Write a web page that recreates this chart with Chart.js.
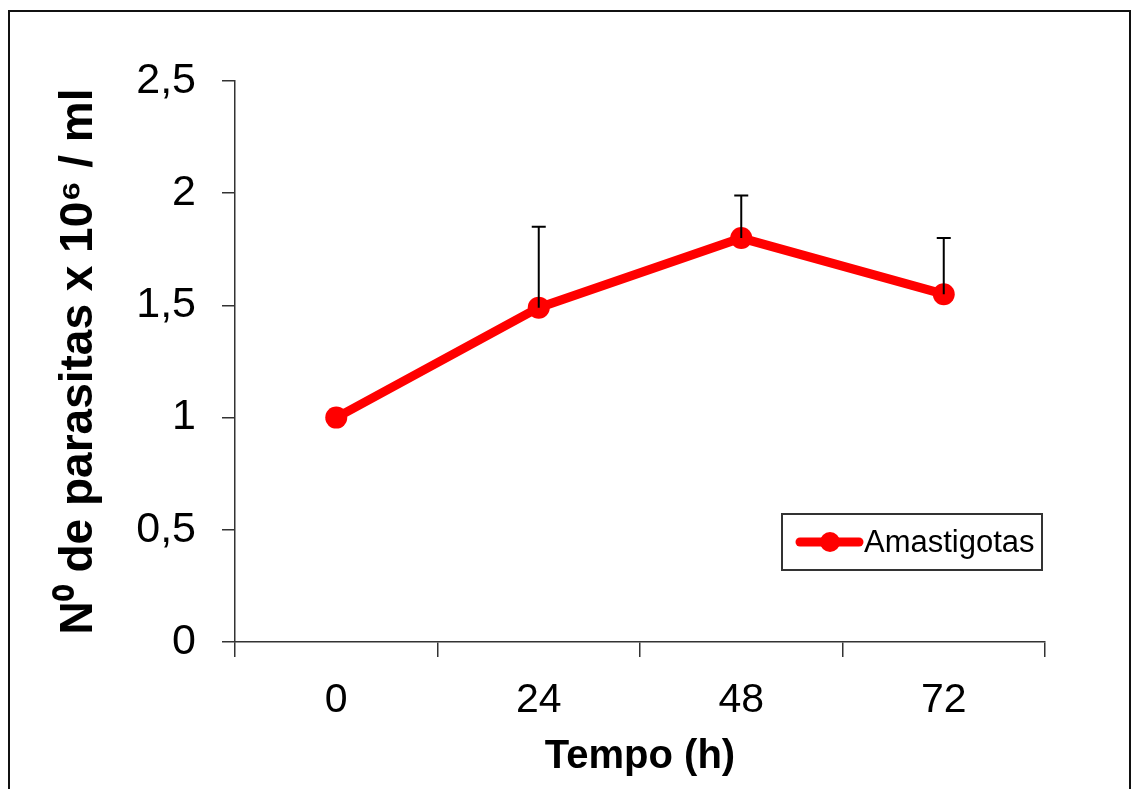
<!DOCTYPE html>
<html>
<head>
<meta charset="utf-8">
<script src="https://cdn.jsdelivr.net/npm/chart.js@4/dist/chart.umd.min.js"></script>
<style>
	body { margin: 0; background: #fff; }
	#grafico { display: block; }
</style>
</head>
<body>
<canvas id="grafico" width="1132" height="789"></canvas>
<script>
// data
var tempo = ["0", "24", "48", "72"];
var amastigotas = [1.0, 1.49, 1.80, 1.55];
var erro = [0, 0.36, 0.19, 0.25];
var yTicks = [0, 0.5, 1, 1.5, 2, 2.5];

var fonte = "'Liberation Sans', Arial, sans-serif";

// upper error bars (black, with cap)
var errorBars = {
	id: "errorBars",
	afterDatasetsDraw: function(chart) {
		var ctx = chart.ctx;
		var x = chart.scales.x, y = chart.scales.y;
		ctx.save();
		ctx.strokeStyle = "#000";
		ctx.lineWidth = 2;
		for (var i = 0; i < amastigotas.length; i++) {
			if (!erro[i]) continue;
			var px = x.getPixelForValue(i);
			var y0 = y.getPixelForValue(amastigotas[i]);
			var y1 = y.getPixelForValue(amastigotas[i] + erro[i]);
			ctx.beginPath();
			ctx.moveTo(px, y0);
			ctx.lineTo(px, y1);
			ctx.moveTo(px - 7, y1);
			ctx.lineTo(px + 7, y1);
			ctx.stroke();
		}
		ctx.restore();
	}
};

// frame around the figure + legend box inside the plot
var moldura = {
	id: "moldura",
	beforeDraw: function(chart) {
		var ctx = chart.ctx;
		ctx.save();
		ctx.fillStyle = "#fff";
		ctx.fillRect(0, 0, chart.width, chart.height);
		ctx.strokeStyle = "#111";
		ctx.lineWidth = 2;
		ctx.strokeRect(9, 11, 1121, 820);
		ctx.restore();
	},
	afterDraw: function(chart) {
		var ctx = chart.ctx;
		var ds = chart.data.datasets[0];
		var a = chart.chartArea;
		var bx = a.right - 263, by = a.top + 433, bw = 260, bh = 56;
		ctx.save();
		ctx.strokeStyle = "#333";
		ctx.lineWidth = 2;
		ctx.strokeRect(bx, by, bw, bh);
		var cy = by + bh / 2;
		ctx.strokeStyle = ds.borderColor;
		ctx.lineWidth = 9;
		ctx.lineCap = "round";
		ctx.beginPath();
		ctx.moveTo(bx + 18, cy);
		ctx.lineTo(bx + 77, cy);
		ctx.stroke();
		ctx.fillStyle = ds.backgroundColor;
		ctx.beginPath();
		ctx.arc(bx + 48, cy, 10, 0, Math.PI * 2);
		ctx.fill();
		ctx.fillStyle = "#000";
		ctx.font = "31px " + fonte;
		ctx.textBaseline = "middle";
		ctx.fillText(ds.label, bx + 82, cy + 1);
		ctx.restore();
	}
};

var ctx = document.getElementById("grafico");

var chart = new Chart(ctx, {
	type: "line",
	data: {
		labels: tempo,
		datasets: [
			{
				label: "Amastigotas",
				data: amastigotas,
				borderColor: "#ff0000",
				backgroundColor: "#ff0000",
				borderWidth: 9,
				pointRadius: 11,
				pointHoverRadius: 11,
				pointBorderWidth: 0,
				fill: false,
				tension: 0
			}
		]
	},
	options: {
		responsive: false,
		animation: false,
		devicePixelRatio: 1,
		layout: { padding: { top: 81, right: 87, bottom: 0, left: 0 } },
		plugins: {
			legend: { display: false },
			tooltip: { enabled: false }
		},
		scales: {
			x: {
				offset: true,
				grid: { offset: true, drawOnChartArea: false, drawTicks: true, tickLength: 15, color: "#333", lineWidth: 1.5 },
				border: { display: true, color: "#333", width: 1.5 },
				ticks: { color: "#000", padding: 19, font: { family: fonte, size: 41 } },
				title: { display: true, text: "Tempo (h)", color: "#000", padding: { top: 0, bottom: 8 }, font: { family: fonte, size: 40, weight: "bold" } },
				afterFit: function(scale) { scale.height = 147; }
			},
			y: {
				min: 0,
				max: 2.5,
				afterBuildTicks: function(scale) {
					scale.ticks = yTicks.map(function(v) { return { value: v }; });
				},
				grid: { drawOnChartArea: false, drawTicks: true, tickLength: 13, color: "#333", lineWidth: 1.5 },
				border: { display: true, color: "#333", width: 1.5 },
				ticks: {
					color: "#000",
					padding: 26,
					font: { family: fonte, size: 43 },
					callback: function(v) { return String(v).replace(".", ","); }
				},
				title: { display: true, text: "N\u2070 de parasitas x 10\u2076 / ml", color: "#000", padding: { top: 52, bottom: 0 }, font: { family: fonte, size: 46, weight: "bold" } },
				afterFit: function(scale) { scale.width = 235; }
			}
		}
	},
	plugins: [moldura, errorBars]
});
</script>
</body>
</html>
